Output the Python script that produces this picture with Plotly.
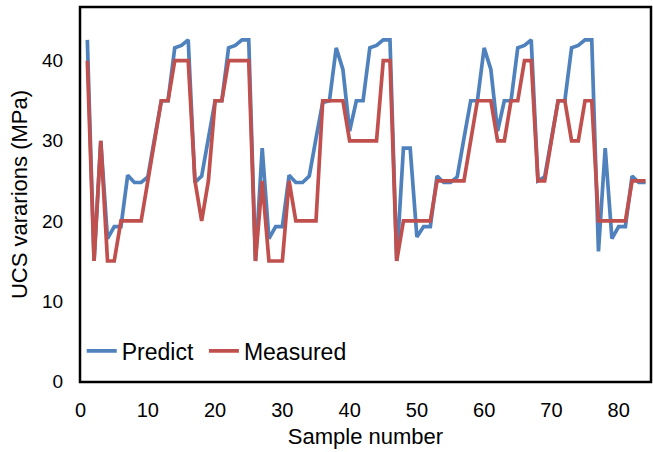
import plotly.graph_objects as go

# Sample index along the x axis
sample_no = list(range(1, 85))

# Measured UCS (MPa)
measured = [
    40, 15, 30, 15, 15, 20, 20, 20, 20, 25,
    30, 35, 35, 40, 40, 40, 25, 20, 25, 35,
    35, 40, 40, 40, 40, 15, 25, 15, 15, 15,
    25, 20, 20, 20, 20, 35, 35, 35, 35, 30,
    30, 30, 30, 30, 40, 40, 15, 20, 20, 20,
    20, 20, 25, 25, 25, 25, 25, 30, 35, 35,
    35, 30, 30, 35, 35, 40, 40, 25, 25, 30,
    35, 35, 30, 30, 35, 35, 20, 20, 20, 20,
    20, 25, 25, 25,
]

# Predicted UCS (MPa)
predict = [
    42.6, 15.0, 30.0, 17.8, 19.3, 19.3, 25.7, 24.8, 24.8, 25.5,
    30.3, 35.0, 35.0, 41.6, 41.9, 42.6, 24.8, 25.6, 30.3, 35.0,
    35.0, 41.6, 41.9, 42.6, 42.6, 15.0, 29.1, 17.8, 19.3, 19.3,
    25.7, 24.8, 24.8, 25.6, 30.3, 34.8, 35.0, 41.6, 38.9, 31.2,
    35.0, 35.0, 41.6, 41.9, 42.6, 42.6, 15.0, 29.1, 29.1, 18.0,
    19.3, 19.3, 25.6, 24.8, 24.8, 25.5, 30.3, 35.0, 35.0, 41.6,
    38.9, 31.2, 35.0, 35.0, 41.6, 41.9, 42.6, 25.0, 25.5, 30.3,
    35.0, 35.0, 41.6, 41.9, 42.6, 42.6, 16.2, 29.1, 17.8, 19.3,
    19.3, 25.6, 24.8, 24.8,
]

x_ticks = [0, 10, 20, 30, 40, 50, 60, 70, 80]
y_ticks = [0, 10, 20, 30, 40]

BLUE = "#4F81BD"
RED = "#C0504D"
FONT = "Liberation Sans, Arial, sans-serif"

fig = go.Figure()
fig.add_trace(go.Scatter(
    x=sample_no, y=predict, mode="lines", name="Predict",
    line=dict(color=BLUE, width=3.7), legend="legend",
))
fig.add_trace(go.Scatter(
    x=sample_no, y=measured, mode="lines", name="Measured",
    line=dict(color=RED, width=3.7), legend="legend2",
))

legend_style = dict(
    orientation="h", y=0.083, xanchor="left", yanchor="middle",
    font=dict(size=23), bgcolor="rgba(0,0,0,0)", itemwidth=30,
)

fig.update_layout(
    width=653, height=452,
    margin=dict(l=80, r=2, t=7, b=70),
    paper_bgcolor="white", plot_bgcolor="white",
    font=dict(family=FONT, color="black", size=19),
    showlegend=True,
    legend=dict(x=0.003, **legend_style),
    legend2=dict(x=0.217, **legend_style),
    xaxis=dict(
        range=[-0.09, 84.81], tickmode="array", tickvals=x_ticks,
        showgrid=False, zeroline=False, showline=False,
        ticks="outside", ticklen=10, tickcolor="rgba(0,0,0,0)",
        tickfont=dict(size=20),
        title=dict(text="Sample number", font=dict(size=22), standoff=8),
    ),
    yaxis=dict(
        range=[-0.1, 46.7], tickmode="array", tickvals=y_ticks,
        showgrid=False, zeroline=False, showline=False,
        ticks="outside", ticklen=12, tickcolor="rgba(0,0,0,0)",
        tickfont=dict(size=19),
        title=dict(text="UCS vararions (MPa)", font=dict(size=22), standoff=8),
    ),
    shapes=[dict(
        type="rect", xref="paper", yref="paper", x0=0, x1=1, y0=0, y1=1,
        line=dict(color="black", width=2.5), fillcolor="rgba(0,0,0,0)",
        layer="above",
    )],
)

fig.write_html("out.html")
